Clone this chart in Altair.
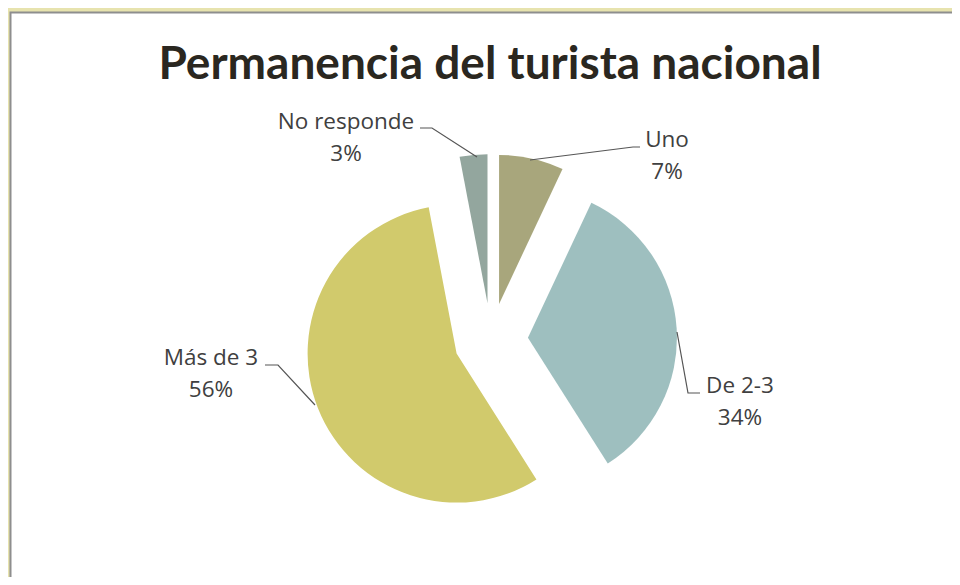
import altair as alt
import pandas as pd

# ---- data ----
categories = ["Uno", "De 2-3", "Más de 3", "No responde"]
percents = [7, 34, 56, 3]
colors = ["#a8a67c", "#9ebfbf", "#d1ca6c", "#93a69e"]

# ---- layout (pixels relative to pie centre, y up) ----
label_dx = [176, 249, -280, -145]
label_dy = [200, -46, -18, 218]
leader_x = [[149, 142, 39], [209, 197, 186], [-226, -213, -176], [-71, -59, -14]]
leader_y = [[193, 193, 180], [-53, -53, 8], [-25, -25, -65], [212, 212, 183]]

W, H = 944, 569
CX, CY = 483, 332          # pie centre inside the chart
R = 149                    # pie radius
EXPLODE = 37

pie_df = pd.DataFrame({"label": categories, "pct": percents, "idx": range(len(categories))})
lab_df = pd.DataFrame({"label": categories, "lx": label_dx, "ly": label_dy})
lead_rows = []
for c, xs, ys in zip(categories, leader_x, leader_y):
    for i, (a, b) in enumerate(zip(xs, ys)):
        lead_rows.append({"label": c, "seq": i, "px": a, "py": b})
lead_df = pd.DataFrame(lead_rows)

xsc = alt.Scale(domain=[-CX, W - CX], range=[0, W], nice=False, zero=False)
ysc = alt.Scale(domain=[-(H - CY), CY], range=[H, 0], nice=False, zero=False)
csc = alt.Scale(domain=categories, range=colors)

# frame
bg = alt.Chart(pd.DataFrame({"a": [0]})).mark_rect(fill="#e7e3ae").encode(
    x=alt.value(0), x2=alt.value(W), y=alt.value(0), y2=alt.value(H))
frame = alt.Chart(pd.DataFrame({"a": [0]})).mark_rect(
    fill="white", stroke="#8e8e8e", strokeWidth=2).encode(
    x=alt.value(2.5), x2=alt.value(W + 20), y=alt.value(4.5), y2=alt.value(H + 20))

pie = alt.Chart(pie_df).transform_window(
    cum="sum(pct)", sort=[alt.SortField("idx")]
).transform_joinaggregate(total="sum(pct)").transform_calculate(
    start="(datum.cum - datum.pct) / datum.total * 2 * PI",
    end="datum.cum / datum.total * 2 * PI",
).transform_calculate(
    mid="(datum.start + datum.end) / 2"
).transform_calculate(
    ox=f"{EXPLODE} * sin(datum.mid)",
    oy=f"{EXPLODE} * cos(datum.mid)",
).mark_arc(outerRadius=R, stroke=None).encode(
    x=alt.X("ox:Q", scale=xsc, axis=None),
    y=alt.Y("oy:Q", scale=ysc, axis=None),
    theta=alt.Theta("start:Q", scale=None),
    theta2="end:Q",
    color=alt.Color("label:N", scale=csc, legend=None),
)

leaders = alt.Chart(lead_df).mark_line(color="#555555", strokeWidth=1.2).encode(
    x=alt.X("px:Q", scale=xsc, axis=None),
    y=alt.Y("py:Q", scale=ysc, axis=None),
    detail="label:N",
    order="seq:Q",
)

labels = alt.Chart(pie_df).transform_lookup(
    lookup="label", from_=alt.LookupData(lab_df, "label", ["lx", "ly"])
).transform_calculate(
    txt="datum.label + '\\n' + datum.pct + '%'"
).mark_text(
    font="Open Sans", fontSize=22.5, color="#404040", lineBreak="\n",
    lineHeight=32, align="center", baseline="middle"
).encode(
    x=alt.X("lx:Q", scale=xsc, axis=None),
    y=alt.Y("ly:Q", scale=ysc, axis=None),
    text="txt:N",
)

title = alt.Chart(pd.DataFrame({"t": ["Permanencia del turista nacional"]})).mark_text(
    font="Lato", fontWeight="bold", fontSize=46, color="#2a2720",
    align="center", baseline="alphabetic"
).encode(x=alt.value(482), y=alt.value(71), text="t:N")

chart = alt.layer(bg, frame, pie, leaders, labels, title).properties(
    width=W, height=H, autosize=alt.AutoSizeParams(type="none"), padding=0,
    background="white"
).configure_view(stroke=None)

chart.save("out.html", embed_options={"renderer": "svg", "actions": False})
